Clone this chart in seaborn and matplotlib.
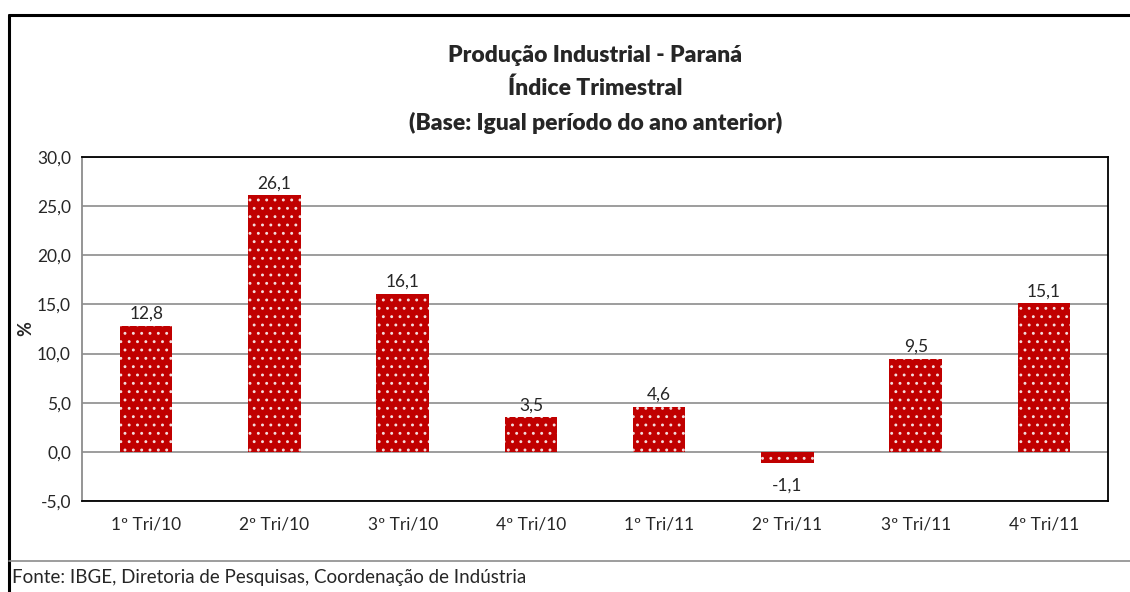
import matplotlib
matplotlib.use("Agg")
import matplotlib.pyplot as plt
import seaborn as sns
import pandas as pd
from matplotlib.lines import Line2D

# -------- data --------
trimestres = ["1º Tri/10", "2º Tri/10", "3º Tri/10", "4º Tri/10",
              "1º Tri/11", "2º Tri/11", "3º Tri/11", "4º Tri/11"]
variacao = [12.8, 26.1, 16.1, 3.5, 4.6, -1.1, 9.5, 15.1]
y_ticks = [-5, 0, 5, 10, 15, 20, 25, 30]

df = pd.DataFrame({"trimestre": trimestres, "valor": variacao})

sns.set_style("white")
plt.rcParams["font.family"] = ["Lato", "DejaVu Sans"]
plt.rcParams["hatch.linewidth"] = 0.9

fig = plt.figure(figsize=(11.3, 5.92), dpi=100)
ax = fig.add_axes([0.0726, 0.1537, 0.908, 0.581])

sns.barplot(data=df, x="trimestre", y="valor", ax=ax, color="#C00000",
            width=0.41, saturation=1)

for p in ax.patches:
    p.set_hatch("..")
    p.set_edgecolor("#f4dede")
    p.set_linewidth(0)

ax.set_ylim(-5, 30)
ax.set_yticks(y_ticks)
ax.set_yticklabels([f"{v:.1f}".replace(".", ",") for v in y_ticks], fontsize=12.5)
ax.tick_params(axis="x", labelsize=12.5, pad=11, length=0)
ax.tick_params(axis="y", pad=8, length=0)
ax.set_xlabel("")
ax.set_ylabel("%", fontsize=13, fontweight="bold", labelpad=2)
ax.yaxis.grid(True, color="#8c8c8c", linewidth=1.2)
ax.set_axisbelow(True)

for s in ["top", "right", "bottom"]:
    ax.spines[s].set_color("black")
    ax.spines[s].set_linewidth(1.3)
ax.spines["left"].set_color("#8c8c8c")
ax.spines["left"].set_linewidth(1.3)

# value labels
for i, v in enumerate(variacao):
    txt = f"{v:.1f}".replace(".", ",")
    if v >= 0:
        ax.annotate(txt, (i, v), xytext=(0, 3), textcoords="offset points",
                    ha="center", va="bottom", fontsize=12.5)
    else:
        ax.annotate(txt, (i, v), xytext=(0, -11), textcoords="offset points",
                    ha="center", va="top", fontsize=12.5)

# title
for y, linha in zip([0.907, 0.851, 0.792],
                    ["Produção Industrial - Paraná", "Índice Trimestral",
                     "(Base: Igual período do ano anterior)"]):
    fig.text(0.527, y, linha, ha="center", va="center",
             fontsize=16.5, fontweight="heavy")

# outer frame and footer
fig.add_artist(Line2D([0.008, 0.008], [0, 0.975], color="black", linewidth=2.2))
fig.add_artist(Line2D([0.008, 1.0], [0.975, 0.975], color="black", linewidth=2.2))
fig.add_artist(Line2D([0.008, 1.0], [0.052, 0.052], color="#8c8c8c", linewidth=1.2))
fig.text(0.011, 0.024, "Fonte: IBGE, Diretoria de Pesquisas, Coordenação de Indústria",
         ha="left", va="center", fontsize=13.5)

plt.savefig("out.png", dpi=100)
